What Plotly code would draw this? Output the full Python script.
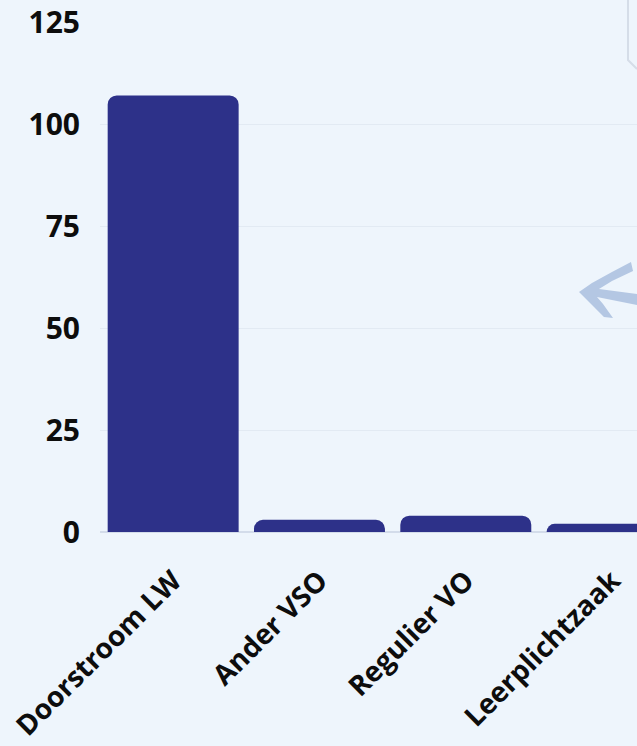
import plotly.graph_objects as go

categories = ["Doorstroom LW", "Ander VSO", "Regulier VO", "Leerplichtzaak"]
values = [107, 3, 4, 2]
y_ticks = [0, 25, 50, 75, 100, 125]

W, H = 637, 746
L, R, T, B = 100, 0, 22, 214
BG = "#eef5fc"
BAR = "#2d3189"
FONT = "Open Sans"

fig = go.Figure(go.Bar(
    x=categories, y=values,
    marker=dict(color=BAR, cornerradius=9, line=dict(width=0)),
    hoverinfo="x+y",
))

pw, ph = W - L - R, H - T - B


def px(x, y):
    return (x - L) / pw, (H - B - y) / ph


def path(points, close=False):
    s = ""
    for i, (x, y) in enumerate(points):
        a, b = px(x, y)
        s += ("M" if i == 0 else "L") + f" {a:.4f},{b:.4f} "
    return s + ("Z" if close else "")


arrow_col = "#b4c7e3"
shapes = [
    dict(type="path", xref="paper", yref="paper",
         path=path([(631, 262), (612, 272), (592, 283), (579, 292), (588, 301),
                    (604, 317), (613, 318), (603, 304), (597, 297), (637, 305),
                    (637, 294), (599, 289), (612, 281), (633, 271)], close=True),
         fillcolor=arrow_col, line=dict(width=0), layer="below"),
    dict(type="path", xref="paper", yref="paper",
         path=path([(628, -2), (628, 60), (637, 69)]),
         line=dict(color="#d5dde8", width=2), layer="below"),
]

fig.update_layout(
    width=W, height=H,
    margin=dict(l=L, r=R, t=T, b=B, pad=0),
    paper_bgcolor=BG, plot_bgcolor=BG,
    bargap=0.105,
    showlegend=False,
    font=dict(family=FONT, color="#111111"),
    shapes=shapes,
    xaxis=dict(
        type="category",
        range=[-0.5, 3.17],
        automargin=False,
        ticklabeloverflow="allow",
        tickangle=-45,
        tickfont=dict(family=FONT, size=28, color="#0d0d0d", weight="bold"),
        showgrid=False,
        showline=False,
        ticks="outside", ticklen=20, tickcolor="rgba(0,0,0,0)",
        zeroline=False,
    ),
    yaxis=dict(
        range=[0, 125],
        automargin=False,
        ticklabeloverflow="allow",
        tickvals=y_ticks,
        tickfont=dict(family=FONT, size=30, color="#0d0d0d", weight="bold"),
        showgrid=True, gridcolor="#e2eaf3", gridwidth=1,
        zeroline=True, zerolinecolor="#d3dcea", zerolinewidth=2,
        ticks="outside", ticklen=13, tickcolor="rgba(0,0,0,0)",
        showline=False,
    ),
)

fig.write_html(
    "out.html",
    config={"displayModeBar": False},
    post_script="document.body.style.margin='0';document.body.style.background='#eef5fc';document.body.style.overflow='hidden';",
)
